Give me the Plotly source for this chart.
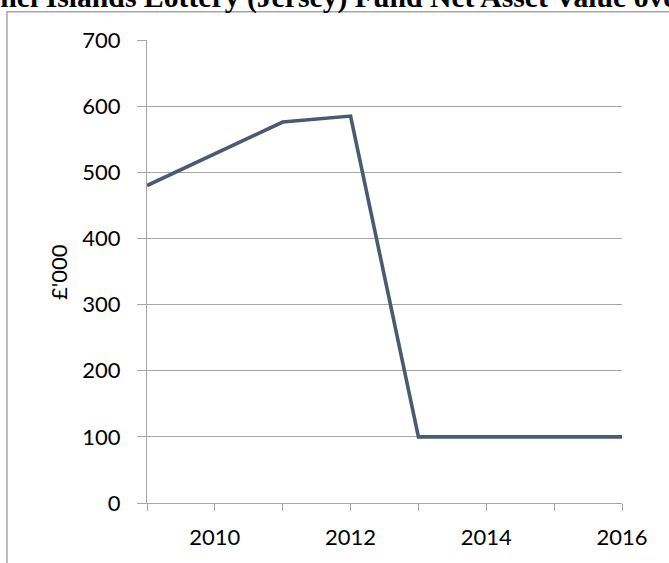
import plotly.graph_objects as go

# Data
years = [2009, 2010, 2011, 2012, 2013, 2014, 2015, 2016]
nav_values = [480, 528, 576, 585, 100, 100, 100, 100]
x_tick_vals = [2009, 2010, 2011, 2012, 2013, 2014, 2015, 2016]
x_tick_text = ["", "2010", "", "2012", "", "2014", "", "2016"]
y_tick_vals = [0, 100, 200, 300, 400, 500, 600, 700]
title_text = "Channel Islands Lottery (Jersey) Fund Net Asset Value over time"
y_title = "£'000"

W, H = 669, 563
L, R, T, B = 147, 47, 40, 60
pw = W - L - R
ph = H - T - B

def px_x(p):
    return (p - L) / pw

def px_y(p):
    return (H - B - p) / ph

grid_col = "#a6a6a6"
line_col = "#4A5A73"
tick_font = dict(family="Lato, 'Liberation Sans', sans-serif", size=22, color="#000000")

fig = go.Figure()
fig.add_trace(go.Scatter(
    x=years, y=nav_values, mode="lines",
    line=dict(color=line_col, width=3.6),
    hoverinfo="skip", showlegend=False,
))

fig.update_layout(
    width=W, height=H,
    margin=dict(l=L, r=R, t=T, b=B, pad=0),
    paper_bgcolor="white", plot_bgcolor="white",
    showlegend=False,
    xaxis=dict(
        range=[2009, 2016], tickmode="array",
        tickvals=x_tick_vals, ticktext=x_tick_text,
        showgrid=False, zeroline=False,
        showline=True, linecolor=grid_col, linewidth=1,
        ticks="outside", ticklen=7, tickcolor=grid_col, tickwidth=1,
        tickfont=tick_font, ticklabelstandoff=8,
    ),
    yaxis=dict(
        range=[0, 700], tickmode="array", tickvals=y_tick_vals,
        showgrid=True, gridcolor=grid_col, gridwidth=1,
        zeroline=False,
        showline=True, linecolor=grid_col, linewidth=1,
        ticks="outside", ticklen=9, tickcolor=grid_col, tickwidth=1,
        tickfont=tick_font, ticklabelstandoff=12,
    ),
    shapes=[
        dict(type="rect", xref="paper", yref="paper",
             x0=px_x(7), x1=px_x(W + 20), y0=px_y(H + 20), y1=px_y(11.7),
             line=dict(color=grid_col, width=1.5), fillcolor="rgba(0,0,0,0)",
             layer="above"),
    ],
    annotations=[
        dict(text="<b>" + title_text + "</b>", xref="paper", yref="paper",
             x=px_x(-71), y=px_y(16), xanchor="left", yanchor="bottom",
             showarrow=False,
             font=dict(family="'Liberation Serif', 'Times New Roman', serif", size=29.7, color="#000000")),
        dict(text=y_title, xref="paper", yref="paper",
             x=px_x(58), y=px_y(272), xanchor="center", yanchor="middle",
             textangle=-90, showarrow=False, font=tick_font),
    ],
)

fig.write_html(
    "out.html",
    config={"displayModeBar": False},
    post_script="document.body.style.margin='0';document.body.style.padding='0';",
)
